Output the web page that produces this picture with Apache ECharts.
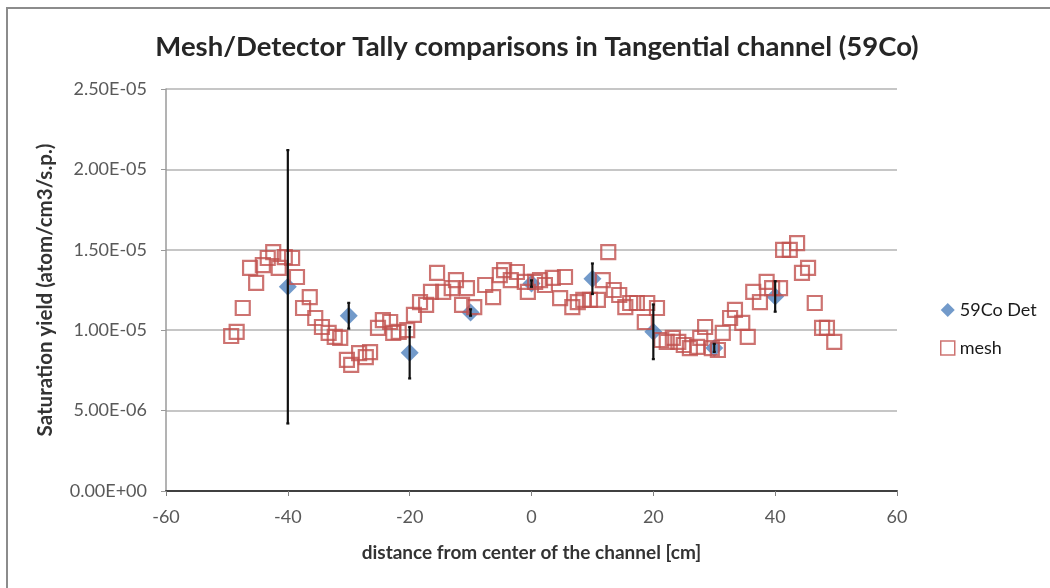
<!DOCTYPE html>
<html>
<head>
<meta charset="utf-8">
<script src="https://cdn.jsdelivr.net/npm/echarts@6/dist/echarts.min.js"></script>
<style>
  html, body { margin: 0; padding: 0; background: #fff; }
  #chart { width: 1050px; height: 588px; }
</style>
</head>
<body>
<div id="chart"></div>
<script>
// Detector tally positions (cm), yields and one-sigma errors
var detX = [-40, -30, -20, -10, 0, 10, 20, 30, 40];
var detY = [1.27e-5, 1.09e-5, 8.6e-6, 1.11e-5, 1.29e-5, 1.32e-5, 9.9e-6, 8.9e-6, 1.21e-5];
var detErr = [8.5e-6, 8.0e-7, 1.6e-6, 2.0e-7, 2.0e-7, 9.5e-7, 1.7e-6, 2.5e-7, 9.5e-7];

// Mesh tally positions (cm) and yields
var meshX = [
  -49.3, -48.4, -47.4, -46.2, -45.2, -44.1, -43.3, -42.4, -41.5, -40.5,
  -39.3, -38.5, -37.5, -36.4, -35.5, -34.4, -33.3, -32.3, -31.4, -30.3,
  -29.6, -28.3, -27.2, -26.5, -25.2, -24.4, -23.2, -22.7, -21.8, -20.4,
  -19.3, -18.3, -17.3, -16.5, -15.5, -14.5, -13.1, -12.4, -11.4, -10.6,
  -9.4, -7.6, -6.3, -5.2, -4.5, -3.4, -2.4, -1.1, -0.6, 0.6,
  1.4, 2.2, 3.5, 4.7, 5.5, 6.7, 7.6, 8.5, 9.6, 10.9,
  11.7, 12.6, 13.5, 14.4, 15.4, 16.2, 17.3, 18.6, 19.0, 20.6,
  21.3, 22.2, 23.2, 24.1, 25.0, 26.0, 27.2, 27.7, 28.5, 29.6,
  30.6, 31.4, 32.6, 33.4, 34.6, 35.5, 36.4, 37.5, 38.6, 39.5,
  40.8, 41.3, 42.4, 43.6, 44.4, 45.4, 46.5, 47.7, 48.5, 49.7
];
var meshY = [
  9.64e-6, 9.89e-6, 1.138e-5, 1.387e-5, 1.294e-5, 1.405e-5, 1.449e-5, 1.486e-5, 1.387e-5, 1.455e-5,
  1.449e-5, 1.331e-5, 1.138e-5, 1.206e-5, 1.076e-5, 1.020e-5, 9.83e-6, 9.58e-6, 9.52e-6, 8.15e-6,
  7.84e-6, 8.58e-6, 8.33e-6, 8.64e-6, 1.014e-5, 1.063e-5, 1.051e-5, 9.83e-6, 9.89e-6, 1.001e-5,
  1.095e-5, 1.175e-5, 1.157e-5, 1.238e-5, 1.356e-5, 1.238e-5, 1.262e-5, 1.312e-5, 1.157e-5, 1.262e-5,
  1.144e-5, 1.281e-5, 1.206e-5, 1.343e-5, 1.374e-5, 1.312e-5, 1.362e-5, 1.300e-5, 1.238e-5, 1.300e-5,
  1.312e-5, 1.281e-5, 1.325e-5, 1.200e-5, 1.331e-5, 1.144e-5, 1.175e-5, 1.188e-5, 1.188e-5, 1.188e-5,
  1.312e-5, 1.486e-5, 1.250e-5, 1.219e-5, 1.144e-5, 1.169e-5, 1.169e-5, 1.051e-5, 1.169e-5, 1.138e-5,
  9.39e-6, 9.27e-6, 9.52e-6, 9.27e-6, 9.08e-6, 8.89e-6, 8.96e-6, 9.52e-6, 1.020e-5, 8.89e-6,
  8.77e-6, 9.83e-6, 1.076e-5, 1.126e-5, 1.045e-5, 9.58e-6, 1.238e-5, 1.175e-5, 1.300e-5, 1.262e-5,
  1.262e-5, 1.499e-5, 1.499e-5, 1.542e-5, 1.356e-5, 1.387e-5, 1.169e-5, 1.014e-5, 1.014e-5, 9.27e-6
];

// Axis tick labels
var xTicks = [-60, -40, -20, 0, 20, 40, 60];
var yTickLabels = ['0.00E+00', '5.00E-06', '1.00E-05', '1.50E-05', '2.00E-05', '2.50E-05'];

var FONT = 'Lato, "Open Sans", sans-serif';

var detPoints = detX.map(function (x, i) { return [x, detY[i]]; });
var detBars = detX.map(function (x, i) { return [x, detY[i] - detErr[i], detY[i] + detErr[i]]; });
var meshPoints = meshX.map(function (x, i) { return [x, meshY[i]]; });

var chart = echarts.init(document.getElementById('chart'), null, { renderer: 'canvas' });

chart.setOption({
  animation: false,
  backgroundColor: '#ffffff',
  title: {
    text: 'Mesh/Detector Tally comparisons in Tangential channel (59Co)',
    left: 532, top: 28, textAlign: 'center',
    textStyle: { fontFamily: FONT, fontSize: 27.5, fontWeight: 'bold', color: '#262626' }
  },
  graphic: [{
    type: 'rect', silent: true, z: -1,
    shape: { x: 7, y: 8, width: 1100, height: 700 },
    style: { fill: 'none', stroke: '#8c8c8c', lineWidth: 2 }
  }],
  legend: {
    orient: 'vertical', left: 935, top: 296, itemGap: 20,
    itemWidth: 14, itemHeight: 14,
    textStyle: { fontFamily: FONT, fontSize: 18, color: '#1a1a1a' },
    data: [
      { name: '59Co Det', icon: 'diamond' },
      { name: 'mesh', icon: 'rect', itemStyle: { color: '#ffffff', borderColor: '#C0504D', borderWidth: 1.5 } }
    ]
  },
  grid: { left: 166, right: 153, top: 89, bottom: 97, containLabel: false },
  xAxis: {
    type: 'value', min: -60, max: 60, interval: 20,
    name: 'distance from center of the channel [cm]',
    nameLocation: 'middle', nameGap: 52,
    nameTextStyle: { fontFamily: FONT, fontSize: 19, fontWeight: 'bold', color: '#333333' },
    axisLine: { show: true, onZero: false, lineStyle: { color: '#404040', width: 2 } },
    axisTick: { show: true, length: 5, lineStyle: { color: '#808080' } },
    axisLabel: {
      fontFamily: FONT, fontSize: 18, color: '#595959', margin: 17,
      formatter: function (v) { return xTicks.indexOf(v) >= 0 ? String(v) : ''; }
    },
    splitLine: { show: false }
  },
  yAxis: {
    type: 'value', min: 0, max: 2.5e-5, interval: 5e-6,
    name: 'Saturation yield (atom/cm3/s.p.)',
    nameLocation: 'middle', nameGap: 110, nameRotate: 90,
    nameTextStyle: { fontFamily: FONT, fontSize: 20.5, fontWeight: 'bold', color: '#333333' },
    axisLine: { show: true, onZero: false, lineStyle: { color: '#9a9a9a', width: 1.5 } },
    axisTick: { show: true, length: 5, lineStyle: { color: '#9a9a9a' } },
    axisLabel: {
      fontFamily: FONT, fontSize: 18, color: '#595959', margin: 19,
      formatter: function (v, i) { return yTickLabels[i]; }
    },
    splitLine: { show: true, lineStyle: { color: '#b3b3b3', width: 1.5 } }
  },
  series: [
    {
      name: '59Co Det', type: 'scatter', data: detPoints,
      symbol: 'diamond', symbolSize: 18, z: 2,
      itemStyle: { color: '#4F81BD' }
    },
    {
      name: 'errbars', type: 'custom', data: detBars, z: 4,
      encode: { x: 0, y: [1, 2] },
      renderItem: function (params, api) {
        var x = api.value(0);
        var lo = api.coord([x, api.value(1)]);
        var hi = api.coord([x, api.value(2)]);
        var cap = 1.5;
        var st = { stroke: '#111111', lineWidth: 2.2 };
        return {
          type: 'group',
          children: [
            { type: 'line', shape: { x1: lo[0], y1: lo[1], x2: hi[0], y2: hi[1] }, style: st },
            { type: 'line', shape: { x1: lo[0] - cap, y1: lo[1], x2: lo[0] + cap, y2: lo[1] }, style: st },
            { type: 'line', shape: { x1: hi[0] - cap, y1: hi[1], x2: hi[0] + cap, y2: hi[1] }, style: st }
          ]
        };
      }
    },
    {
      name: 'mesh', type: 'scatter', data: meshPoints,
      symbol: 'rect', symbolSize: 14, z: 3,
      itemStyle: { color: 'rgba(255,255,255,0)', borderColor: '#C0504D', borderWidth: 2.2 }
    }
  ]
});
</script>
</body>
</html>
